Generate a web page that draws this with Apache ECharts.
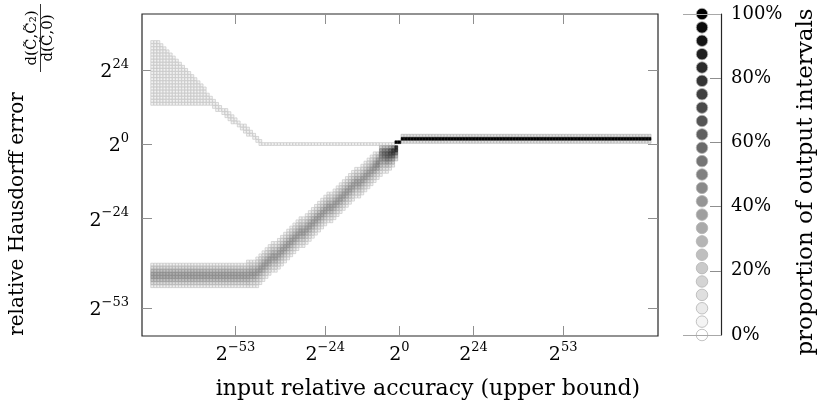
<!DOCTYPE html>
<html>
<head>
<meta charset="utf-8">
<script src="https://cdn.jsdelivr.net/npm/echarts@6/dist/echarts.min.js"></script>
<style>
  html, body { margin: 0; padding: 0; background: #ffffff; }
  #chart { width: 826px; height: 410px; }
</style>
</head>
<body>
<div id="chart"></div>
<script>
// Axis ticks (log2 exponents) and colour bar ticks
const xTicks = [-53, -24, 0, 24, 53];
const yTicks = [-53, -24, 0, 24];
const barTicks = [0, 20, 40, 60, 80, 100];
const barLevels = [0, 4.17, 8.33, 12.5, 16.67, 20.83, 25, 29.17, 33.33, 37.5, 41.67, 45.83,
  50, 54.17, 58.33, 62.5, 66.67, 70.83, 75, 79.17, 83.33, 87.5, 91.67, 95.83, 100];

// Upper (pessimistic) branch: [x, lowest row, highest row], all with the same share
const upperCols = [
  [-80, 13, 33], [-79, 13, 33], [-78, 13, 33], [-77, 13, 32], [-76, 13, 31], [-75, 13, 30],
  [-74, 13, 29], [-73, 13, 28], [-72, 13, 27], [-71, 13, 26], [-70, 13, 25], [-69, 13, 24],
  [-68, 13, 23], [-67, 13, 22], [-66, 13, 21], [-65, 13, 20], [-64, 13, 19], [-63, 13, 18],
  [-62, 13, 16], [-61, 13, 15], [-60, 12, 14], [-59, 11, 13], [-58, 11, 12], [-57, 10, 11],
  [-56, 9, 11], [-55, 8, 10], [-54, 7, 9], [-53, 7, 8], [-52, 6, 7], [-51, 5, 6],
  [-50, 4, 6], [-49, 3, 5], [-48, 3, 4], [-47, 2, 3], [-46, 1, 2], [-45, 0, 1]
];
const upperShare = 5;
// flat part of the upper branch: [x from, x to, row]
const upperFlat = [-44, -2, 0];

// Lower branch: flat floor [x from, x to, lowest row] and per-column diagonal cells
const lowerFlat = [-80, -50, -46];
const profiles = {
  flat:  [6, 14, 24, 32, 32, 24, 14, 6],
  knee:  [8, 16, 24, 32, 32, 26, 16, 10, 5],
  knee2: [6, 12, 20, 30, 34, 28, 20, 12, 6],
  diag:  [5, 10, 16, 24, 32, 32, 24, 16, 10, 5],
  d8:    [5, 10, 16, 26, 34, 36, 28, 18, 10, 5],
  d7:    [5, 10, 16, 28, 38, 40, 32, 20, 10],
  d6:    [5, 8, 14, 22, 30, 38, 42, 44, 36, 18],
  d5:    [5, 10, 18, 28, 40, 50, 54, 46, 24],
  d4:    [5, 10, 20, 32, 46, 56, 58, 48, 26],
  d3:    [6, 14, 26, 42, 58, 66, 58, 32],
  d2:    [8, 18, 34, 54, 70, 72, 42],
  d1:    [12, 28, 52, 76, 80]
};
const lowerCols = [
  [-49, -46, 'knee'], [-48, -46, 'knee2'], [-47, -46, 'knee2'], [-46, -46, 'diag'],
  [-45, -45, 'diag'], [-44, -44, 'diag'], [-43, -43, 'diag'], [-42, -42, 'diag'],
  [-41, -41, 'diag'], [-40, -41, 'diag'], [-39, -40, 'diag'], [-38, -39, 'diag'],
  [-37, -38, 'diag'], [-36, -37, 'diag'], [-35, -36, 'diag'], [-34, -35, 'diag'],
  [-33, -34, 'diag'], [-32, -33, 'diag'], [-31, -33, 'diag'], [-30, -32, 'diag'],
  [-29, -31, 'diag'], [-28, -30, 'diag'], [-27, -29, 'diag'], [-26, -28, 'diag'],
  [-25, -27, 'diag'], [-24, -26, 'diag'], [-23, -25, 'diag'], [-22, -25, 'diag'],
  [-21, -24, 'diag'], [-20, -23, 'diag'], [-19, -22, 'diag'], [-18, -21, 'diag'],
  [-17, -20, 'diag'], [-16, -19, 'diag'], [-15, -18, 'diag'], [-14, -17, 'diag'],
  [-13, -17, 'diag'], [-12, -16, 'diag'], [-11, -15, 'diag'], [-10, -14, 'diag'],
  [-9, -13, 'diag'], [-8, -12, 'd8'], [-7, -11, 'd7'], [-6, -10, 'd6'],
  [-5, -9, 'd5'], [-4, -9, 'd4'], [-3, -8, 'd3'], [-2, -7, 'd2'], [-1, -5, 'd1']
];

// Converged output: [x from, x to, row, share]
const lineRuns = [
  [1, 81, 0.7, 12],
  [1, 81, 2.7, 12],
  [-1, 0, 0.6, 100],
  [1, 81, 1.7, 100]
];

const SERIF = '"DejaVu Serif", "Liberation Serif", serif';

// ---- build the cell list ----
const cells = [];
function addCell(x, y, share) { cells.push([x, y, share]); }
upperCols.forEach(([x, lo, hi]) => { for (let y = lo; y <= hi; y++) addCell(x, y, upperShare); });
for (let x = upperFlat[0]; x <= upperFlat[1]; x++) addCell(x, upperFlat[2], upperShare);
for (let x = lowerFlat[0]; x <= lowerFlat[1]; x++) {
  profiles.flat.forEach((s, i) => addCell(x, lowerFlat[2] + i, s));
}
lowerCols.forEach(([x, lo, key]) => profiles[key].forEach((s, i) => addCell(x, lo + i, s)));
lineRuns.forEach(([x0, x1, y, s]) => { for (let x = x0; x <= x1; x++) addCell(x, y, s); });
cells.sort((a, b) => a[2] - b[2]);

function grey(share) {
  const g = Math.round(255 * (1 - Math.min(100, Math.max(0, share)) / 100));
  return 'rgb(' + g + ',' + g + ',' + g + ')';
}

const cellData = cells.map(([x, y, s]) => ({
  value: [x, y, s],
  itemStyle: { color: grey(s), borderColor: grey(Math.min(100, s + 20)) }
}));

const barData = barLevels.map(p => ({
  value: [0.5, p],
  itemStyle: { color: grey(p) }
}));

function powLabel(v) {
  const e = v < 0 ? '\u2212' + (-v) : String(v);
  return '{b|2}{s|' + e + '}';
}
const powRich = {
  b: { fontFamily: SERIF, fontSize: 19, color: '#000', lineHeight: 24, verticalAlign: 'bottom' },
  s: { fontFamily: SERIF, fontSize: 13, color: '#000', lineHeight: 10, verticalAlign: 'top' }
};

const tickStyle = { color: '#8f8f8f', width: 1 };
const noLine = { show: false, onZero: false };

const option = {
  animation: false,
  backgroundColor: '#ffffff',
  grid: [
    { left: 142, top: 14, width: 516, height: 322, show: true, borderColor: '#262626', borderWidth: 1.2, backgroundColor: 'transparent' },
    { left: 683, top: 14, width: 38, height: 321 }
  ],
  xAxis: [
    {
      gridIndex: 0, type: 'value', min: -83.3, max: 83.7, position: 'bottom',
      axisLine: noLine, splitLine: { show: false },
      axisTick: { show: true, inside: true, length: 10, customValues: xTicks, lineStyle: tickStyle },
      axisLabel: { customValues: xTicks, formatter: powLabel, rich: powRich, margin: 5 }
    },
    {
      gridIndex: 0, type: 'value', min: -83.3, max: 83.7, position: 'top',
      axisLine: noLine, splitLine: { show: false },
      axisTick: { show: true, inside: true, length: 10, customValues: xTicks, lineStyle: tickStyle },
      axisLabel: { show: false }
    },
    { gridIndex: 1, type: 'value', min: 0, max: 1, show: false }
  ],
  yAxis: [
    {
      gridIndex: 0, type: 'value', min: -62.1, max: 42.07, position: 'left',
      axisLine: noLine, splitLine: { show: false },
      axisTick: { show: true, inside: true, length: 10, customValues: yTicks, lineStyle: tickStyle },
      axisLabel: { customValues: yTicks, formatter: powLabel, rich: powRich, margin: 13 }
    },
    {
      gridIndex: 0, type: 'value', min: -62.1, max: 42.07, position: 'right',
      axisLine: noLine, splitLine: { show: false },
      axisTick: { show: true, inside: true, length: 10, customValues: yTicks, lineStyle: tickStyle },
      axisLabel: { show: false }
    },
    {
      gridIndex: 1, type: 'value', min: 0, max: 100, interval: 20, position: 'right',
      axisLine: { show: true, onZero: false, lineStyle: { color: '#262626', width: 1.2 } },
      axisTick: { show: true, inside: true, length: 11, lineStyle: tickStyle },
      splitLine: { show: false },
      axisLabel: { formatter: '{value}%', fontFamily: SERIF, fontSize: 18, color: '#000', margin: 10 }
    }
  ],
  series: [
    {
      type: 'scatter', xAxisIndex: 0, yAxisIndex: 0, symbol: 'rect', symbolSize: 2.8,
      silent: true, itemStyle: { borderWidth: 0.6, opacity: 1 },
      data: cellData
    },
    {
      type: 'scatter', xAxisIndex: 2, yAxisIndex: 2, symbol: 'circle', symbolSize: 11.5,
      silent: true, itemStyle: { borderColor: '#b4b4b4', borderWidth: 0.8, opacity: 1 },
      data: barData,
      markLine: {
        silent: true, symbol: 'none', label: { show: false },
        lineStyle: { color: '#a8a8a8', type: 'solid', width: 1.2 },
        data: [{ yAxis: 0 }, { yAxis: 100 }]
      },
      z: 3
    }
  ],
  graphic: [
    {
      type: 'text', x: 428, y: 389,
      style: { text: 'input relative accuracy (upper bound)', fontFamily: SERIF, fontSize: 22, fill: '#000', align: 'center', verticalAlign: 'middle' }
    },
    {
      type: 'text', x: 18, y: 214, rotation: Math.PI / 2,
      style: { text: 'relative Hausdorff error', fontFamily: SERIF, fontSize: 20, fill: '#000', align: 'center', verticalAlign: 'middle' }
    },
    {
      type: 'text', x: 32.5, y: 38, rotation: Math.PI / 2,
      style: { text: 'd(C\u0303,C\u0303\u2082)', fontFamily: SERIF, fontSize: 15, fill: '#000', align: 'center', verticalAlign: 'middle' }
    },
    {
      type: 'line', shape: { x1: 40.5, y1: 4, x2: 40.5, y2: 72 },
      style: { stroke: '#000', lineWidth: 0.8 }
    },
    {
      type: 'text', x: 48.5, y: 38, rotation: Math.PI / 2,
      style: { text: 'd(C\u0303,0)', fontFamily: SERIF, fontSize: 15, fill: '#000', align: 'center', verticalAlign: 'middle' }
    },
    {
      type: 'text', x: 806, y: 182, rotation: Math.PI / 2,
      style: { text: 'proportion of output intervals', fontFamily: SERIF, fontSize: 23, fill: '#000', align: 'center', verticalAlign: 'middle' }
    }
  ]
};

const chart = echarts.init(document.getElementById('chart'), null, { renderer: 'canvas' });
chart.setOption(option);
</script>
</body>
</html>
